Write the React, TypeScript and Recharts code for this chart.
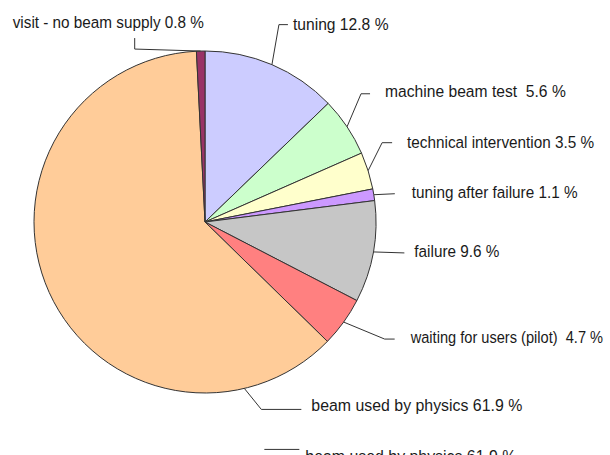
import React from "react";
import { PieChart, Pie, Cell } from "recharts";

const categories = [
  "tuning",
  "machine beam test",
  "technical intervention",
  "tuning after failure",
  "failure",
  "waiting for users (pilot)",
  "beam used by physics",
  "visit - no beam supply",
];
const values = [12.8, 5.6, 3.5, 1.1, 9.6, 4.7, 61.9, 0.8];
const labelTexts = [
  "tuning 12.8 %",
  "machine beam test  5.6 %",
  "technical intervention 3.5 %",
  "tuning after failure 1.1 %",
  "failure 9.6 %",
  "waiting for users (pilot)  4.7 %",
  "beam used by physics 61.9 %",
  "visit - no beam supply 0.8 %",
];
const colors = ["#CCCCFF", "#CCFFCC", "#FFFFCC", "#CC99FF", "#C6C6C6", "#FF8080", "#FFCC99", "#993366"];

// label leader layout: elbow offset from slice edge, tail end offset from elbow, text offset from tail end, text x-scale
const labelLayout = [
  { ex: 7, ey: -40, tx: 9, ty: 0, lx: 5, ly: 5, s: 0.92 },
  { ex: 14, ey: -33, tx: 9, ty: 0, lx: 15, ly: 3, s: 0.92 },
  { ex: 14, ey: -28, tx: 10, ty: 0, lx: 15, ly: 5, s: 0.9 },
  { ex: 21, ey: -1, tx: 0, ty: 0, lx: 17, ly: 4, s: 0.9 },
  { ex: 31, ey: 1, tx: 0, ty: 0, lx: 10, ly: 4, s: 0.9 },
  { ex: 41, ey: 17, tx: 10, ty: 0, lx: 16, ly: 4, s: 0.86 },
  { ex: 17, ey: 21, tx: 40, ty: 0, lx: 10, ly: 2, s: 0.935, angle: -76.7 },
  { ex: -66, ey: -2, tx: 0, ty: -11, lx: -122, ly: -10, s: 0.9 },
];

const data = categories.map((name, i) => ({ name, value: values[i], label: labelTexts[i] }));

const RAD = Math.PI / 180;
const FONT = "'Liberation Sans', Arial, sans-serif";

const Label = ({ x, y, text, s }: { x: number; y: number; text: string; s: number }) => (
  <text
    x={0}
    y={0}
    transform={`translate(${x},${y}) scale(${s},1)`}
    fill="#1a1a1a"
    fontSize={17}
    fontFamily={FONT}
    textAnchor="start"
    style={{ whiteSpace: "pre" }}
  >
    {text}
  </text>
);

const renderLabel = (props: any) => {
  const { cx, cy, midAngle, outerRadius, index } = props;
  const lay = labelLayout[index];
  const ang = lay.angle !== undefined ? lay.angle : midAngle;
  const sx = cx + outerRadius * Math.cos(-ang * RAD);
  const sy = cy + outerRadius * Math.sin(-ang * RAD);
  const ex = sx + lay.ex;
  const ey = sy + lay.ey;
  const tx = ex + lay.tx;
  const ty = ey + lay.ty;
  const lx = tx + lay.lx;
  const ly = ty + lay.ly;
  return (
    <g key={`lbl-${index}`}>
      <polyline points={`${sx},${sy} ${ex},${ey} ${tx},${ty}`} fill="none" stroke="#333" strokeWidth={1} />
      <Label x={lx} y={ly} text={labelTexts[index]} s={lay.s} />
      {index === 6 ? (
        <g>
          <line x1={tx - 37} y1={ty + 40} x2={tx - 2} y2={ty + 40} stroke="#333" strokeWidth={1} />
          <Label x={lx - 6} y={ly + 51} text={labelTexts[index]} s={lay.s} />
        </g>
      ) : null}
    </g>
  );
};

export default function App() {
  return (
    <div style={{ position: "absolute", left: 0, top: 0, width: 610, height: 455, background: "#fff", overflow: "hidden" }}>
      <PieChart width={610} height={455} margin={{ top: 0, right: 0, bottom: 0, left: 0 }}>
        <Pie
          data={data}
          dataKey="value"
          nameKey="name"
          cx={205}
          cy={222}
          outerRadius={171}
          startAngle={90}
          endAngle={-270}
          stroke="#333"
          strokeWidth={1}
          label={renderLabel}
          labelLine={false}
          isAnimationActive={false}
        >
          {data.map((d, i) => (
            <Cell key={d.name} fill={colors[i]} />
          ))}
        </Pie>
      </PieChart>
    </div>
  );
}
